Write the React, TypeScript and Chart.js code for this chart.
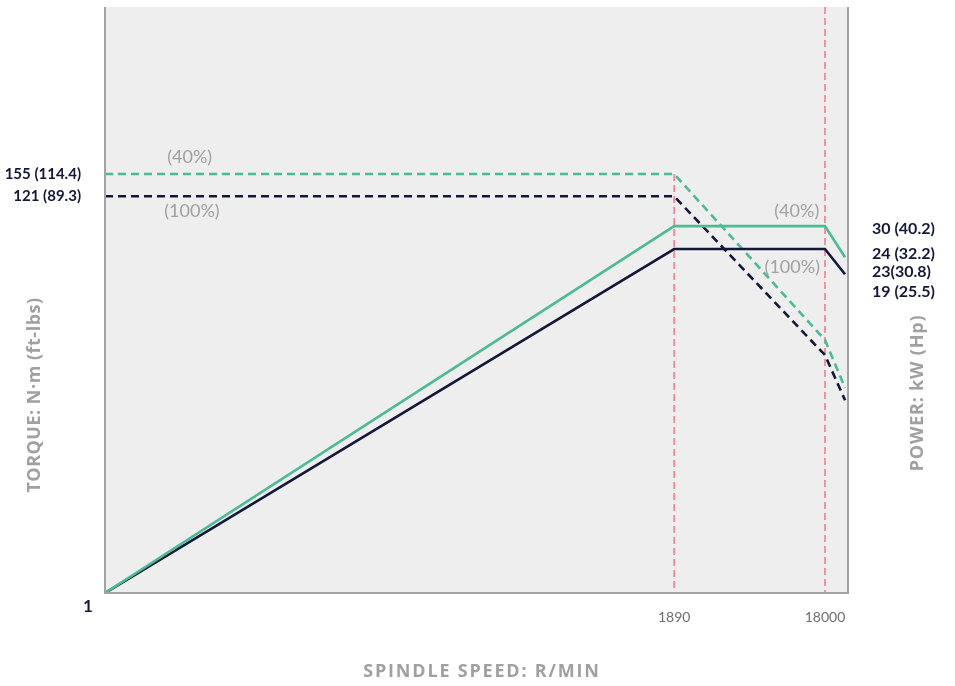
import React, { useEffect, useRef } from "react";
import { Chart, registerables } from "chart.js";

Chart.register(...registerables);

// Schematic axis positions (0–100 along the speed axis) for: start (1 r/min), 1890, 18000, curve end
const speedPos = [0, 76.6, 96.9, 99.6];
const speedTickLabels = ["1890", "18000"];
const speedTickPos = [76.6, 96.9];

// Schematic heights (0–100)
const torque40 = [71.5, 71.5, 43.2, 35.0];
const torque100 = [67.7, 67.7, 40.6, 32.9];
const power40 = [0, 62.6, 62.6, 57.3];
const power100 = [0, 58.7, 58.7, 54.4];

const torqueTickPos = [71.5, 67.7];
const torqueTickLabels = ["155 (114.4)", "121 (89.3)"];
const powerTickPos = [62.1, 57.85, 54.8, 51.4];
const powerTickLabels = ["30 (40.2)", "24 (32.2)", "23(30.8)", "19 (25.5)"];

const GREEN = "#4cbb93";
const NAVY = "#141838";
const RED = "#ec7082";
const GRAY_TXT = "#a0a0a0";
const FONT = "'Open Sans', 'Noto Sans', sans-serif";
const LFONT = "Lato, 'Open Sans', sans-serif";

const pts = (xs: number[], ys: number[]) => xs.map((x, i) => ({ x, y: ys[i] }));

export default function App() {
  const ref = useRef<HTMLCanvasElement>(null);
  useEffect(() => {
    document.body.style.margin = "0";
    const canvas = ref.current!;
    const decor = {
      id: "decor",
      beforeDatasetsDraw(chart: any) {
        const { ctx, chartArea: a } = chart;
        ctx.save();
        ctx.fillStyle = "#eeeeee";
        ctx.fillRect(a.left, a.top, a.right - a.left, a.bottom - a.top);
        ctx.restore();
      },
      afterDatasetsDraw(chart: any) {
        const { ctx, chartArea: a, scales } = chart;
        ctx.save();
        ctx.strokeStyle = "#a3a3a3";
        ctx.lineWidth = 2;
        ctx.beginPath();
        ctx.moveTo(a.left, a.top);
        ctx.lineTo(a.left, a.bottom);
        ctx.lineTo(a.right, a.bottom);
        ctx.lineTo(a.right, a.top);
        ctx.stroke();
        // percent annotations
        const xs = scales.x, ys = scales.y;
        ctx.font = `18px ${LFONT}`;
        ctx.fillStyle = GRAY_TXT;
        ctx.textAlign = "center";
        ctx.textBaseline = "middle";
        const notes: [string, number, number][] = [
          ["(40%)", 11.4, 74.4],
          ["(100%)", 11.7, 65.2],
          ["(40%)", 93.1, 65.2],
          ["(100%)", 92.5, 55.6],
        ];
        notes.forEach(([t, x, y]) => ctx.fillText(t, xs.getPixelForValue(x), ys.getPixelForValue(y)));
        // start label "1"
        ctx.font = `700 17px ${LFONT}`;
        ctx.fillStyle = NAVY;
        ctx.fillText("1", a.left - 17, a.bottom + 14);
        // axis titles
        ctx.fillStyle = GRAY_TXT;
        ctx.font = `700 18px ${FONT}`;
        ctx.save();
        ctx.translate(35, 395);
        ctx.rotate(-Math.PI / 2);
        (ctx as any).letterSpacing = "0.5px";
        ctx.fillText("TORQUE: N·m (ft-lbs)", 0, 0);
        ctx.restore();
        ctx.save();
        ctx.translate(918, 393);
        ctx.rotate(-Math.PI / 2);
        ctx.font = `700 18px ${FONT}`;
        (ctx as any).letterSpacing = "0.8px";
        ctx.fillText("POWER: kW (Hp)", 0, 0);
        ctx.restore();
        ctx.font = `700 18px ${FONT}`;
        (ctx as any).letterSpacing = "1.8px";
        ctx.fillText("SPINDLE SPEED: R/MIN", 482, 672);
        ctx.restore();
      },
    };
    const fitV = (w: number) => (s: any) => {
      s.width = w;
      s.paddingTop = 0;
      s.paddingBottom = 0;
    };
    const chart = new Chart(canvas, {
      type: "line",
      data: {
        datasets: [
          { data: pts(speedPos, power40), borderColor: GREEN, borderWidth: 2.6, pointRadius: 0, yAxisID: "y" },
          { data: pts(speedPos, power100), borderColor: NAVY, borderWidth: 2.6, pointRadius: 0, yAxisID: "y" },
          { data: pts(speedPos, torque40), borderColor: GREEN, borderWidth: 2.6, borderDash: [8, 5], pointRadius: 0, yAxisID: "y" },
          { data: pts(speedPos, torque100), borderColor: NAVY, borderWidth: 2.6, borderDash: [8, 5], pointRadius: 0, yAxisID: "y" },
          { data: [{ x: speedTickPos[0], y: torque40[1] }, { x: speedTickPos[0], y: 0 }], borderColor: RED, borderWidth: 1.4, borderDash: [7, 4], pointRadius: 0, yAxisID: "y" },
          { data: [{ x: speedTickPos[1], y: 100 }, { x: speedTickPos[1], y: 0 }], borderColor: RED, borderWidth: 1.4, borderDash: [7, 4], pointRadius: 0, yAxisID: "y" },
        ],
      },
      options: {
        responsive: false,
        animation: false,
        layout: { padding: { top: 7, left: 0, right: 0, bottom: 0 } },
        plugins: { legend: { display: false }, tooltip: { enabled: false } },
        scales: {
          x: {
            type: "linear",
            min: 0,
            max: 100,
            grid: { display: false },
            border: { display: false },
            afterFit: (s: any) => {
              s.height = 93;
              s.paddingLeft = 0;
              s.paddingRight = 0;
            },
            afterBuildTicks: (s: any) => { s.ticks = speedTickPos.map((v) => ({ value: v })); },
            ticks: {
              autoSkip: false,
              maxRotation: 0,
              padding: 8,
              color: "#6e6e6e",
              font: { family: "Lato, sans-serif", size: 14 },
              callback: (v: any) => speedTickLabels[speedTickPos.indexOf(Number(v))] ?? "",
            },
          },
          y: {
            position: "left",
            min: 0,
            max: 100,
            grid: { display: false },
            border: { display: false },
            afterFit: fitV(105),
            afterBuildTicks: (s: any) => { s.ticks = torqueTickPos.map((v) => ({ value: v })); },
            ticks: {
              autoSkip: false,
              padding: 16,
              color: NAVY,
              font: { family: LFONT, size: 15, weight: "700" },
              callback: (v: any) => torqueTickLabels[torqueTickPos.indexOf(Number(v))] ?? "",
            },
          },
          y2: {
            position: "right",
            min: 0,
            max: 100,
            grid: { display: false },
            border: { display: false },
            afterFit: fitV(107),
            afterBuildTicks: (s: any) => { s.ticks = powerTickPos.map((v) => ({ value: v })); },
            ticks: {
              autoSkip: false,
              padding: 16,
              color: NAVY,
              font: { family: LFONT, size: 16, weight: "700" },
              callback: (v: any) => powerTickLabels[powerTickPos.indexOf(Number(v))] ?? "",
            },
          },
        },
      },
      plugins: [decor],
    });
    return () => chart.destroy();
  }, []);
  return (
    <div style={{ width: 955, height: 686 }}>
      <canvas ref={ref} width={955} height={686} style={{ display: "block" }} />
    </div>
  );
}
